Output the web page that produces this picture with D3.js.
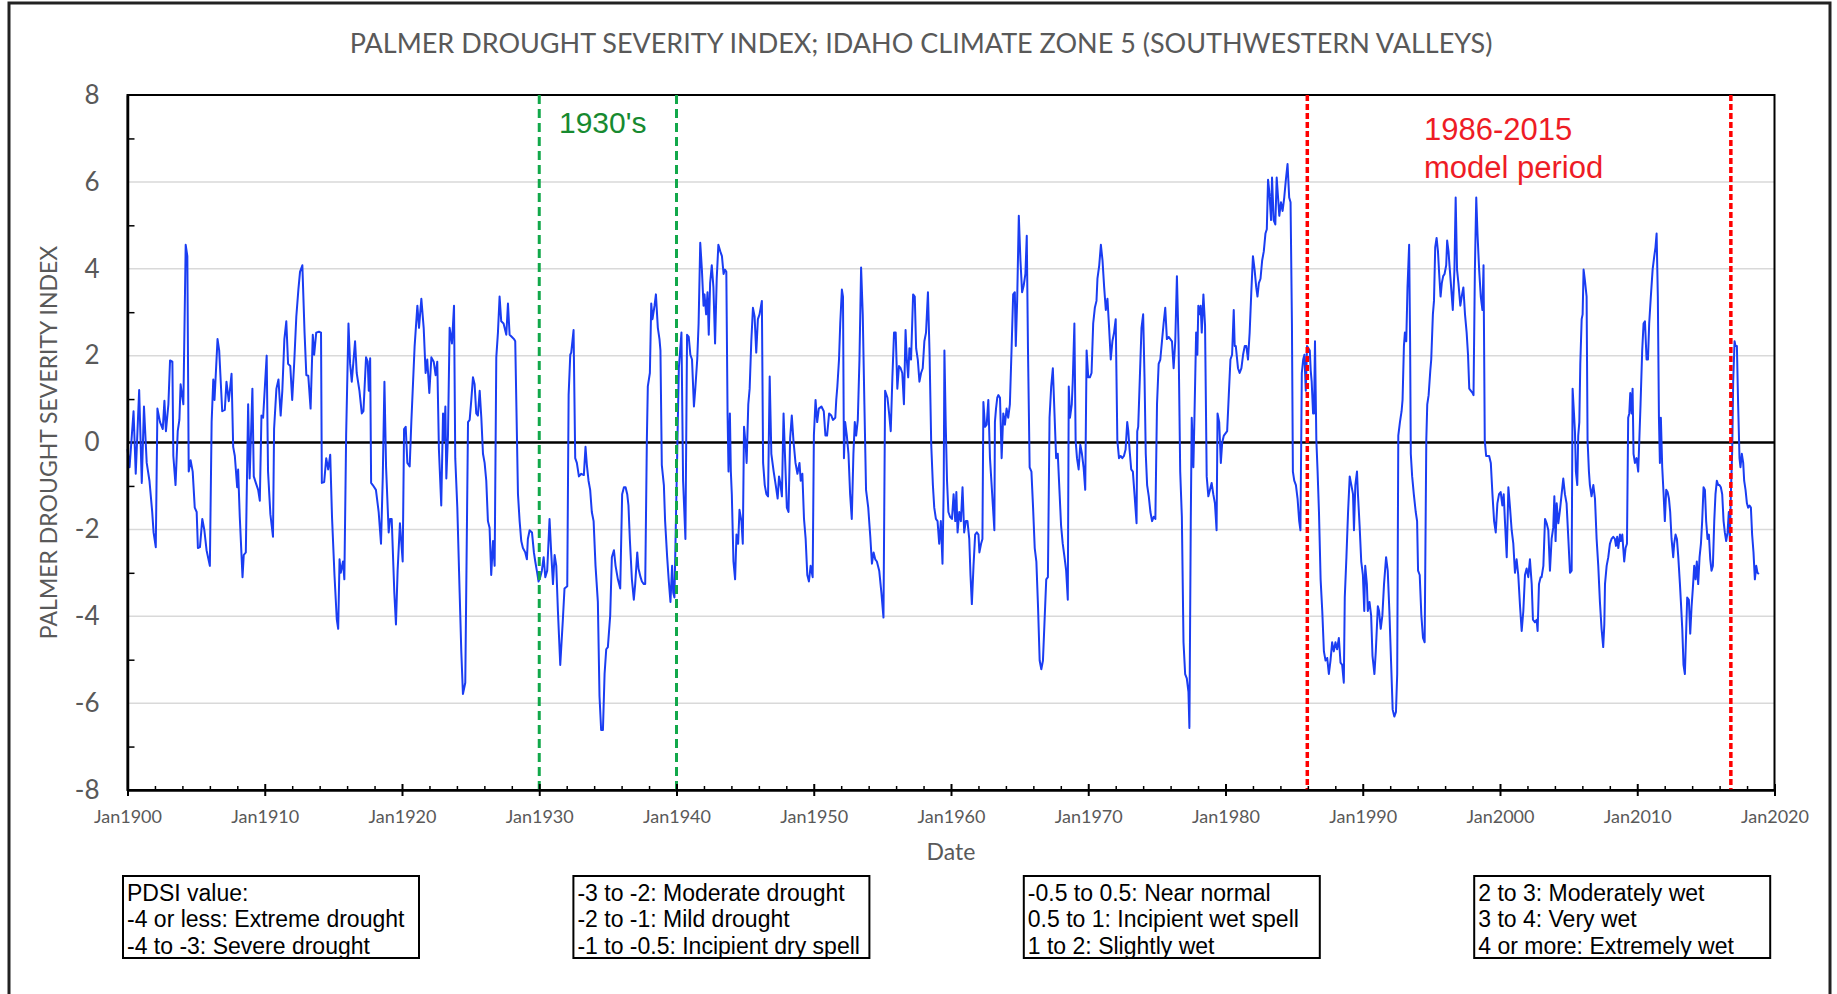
<!DOCTYPE html>
<html>
<head>
<meta charset="utf-8">
<script src="https://cdn.jsdelivr.net/npm/d3@7"></script>
<style>
    body { margin: 0; background: #fff; }
    svg { display: block; }
</style>
</head>
<body>
<svg id="chart" width="1837" height="994"></svg>
<script>
// ---- chart values ----
const titleText = "PALMER DROUGHT SEVERITY INDEX; IDAHO CLIMATE ZONE 5 (SOUTHWESTERN VALLEYS)";
const yAxisTitle = "PALMER DROUGHT SEVERITY INDEX";
const xAxisTitle = "Date";
const yMajorTicks = [-8, -6, -4, -2, 0, 2, 4, 6, 8];
const yMinorTicks = [-7, -5, -3, -1, 1, 3, 5, 7];
const xMajorTicks = [1900, 1910, 1920, 1930, 1940, 1950, 1960, 1970, 1980, 1990, 2000, 2010, 2020];
const xMinorTicks = d3.range(1902, 2020, 2).filter(v => v % 10 !== 0);
const thirtiesLines = [1930, 1940];
const thirtiesLabel = ["1930's"];
const modelLines = [1985.96, 2016.82];
const modelLabel = ["1986-2015", "model period"];
const legendGroups = [
    ["PDSI value:", "-4 or less: Extreme drought", "-4 to -3: Severe drought"],
    ["-3 to -2: Moderate drought", "-2 to -1: Mild drought", "-1 to -0.5: Incipient dry spell"],
    ["-0.5 to 0.5: Near normal", "0.5 to 1: Incipient wet spell", "1 to 2: Slightly wet"],
    ["2 to 3: Moderately wet", "3 to 4: Very wet", "4 or more: Extremely wet"]
];

// monthly PDSI, [decimal year, value]
const pdsi1900s = [[1900.0,-0.15],[1900.15,-0.57],[1900.44,0.72],[1900.6,-0.72],[1900.85,1.21],[1901.04,-0.93],[1901.2,0.83],[1901.4,-0.47],[1901.6,-0.88],[1901.7,-1.24],[1901.8,-1.6],[1901.9,-2.07],[1902.06,-2.41],[1902.18,0.78],[1902.37,0.47],[1902.57,0.31],[1902.69,0.96],[1902.8,0.26],[1902.98,0.88],[1903.1,1.89],[1903.27,1.86],[1903.34,-0.31],[1903.5,-0.98],[1903.66,0.26],[1903.78,0.52],[1903.87,1.34],[1904.07,0.88],[1904.24,4.55],[1904.36,4.29],[1904.46,-0.67],[1904.6,-0.41],[1904.75,-0.67],[1904.9,-1.5],[1905.04,-1.6],[1905.13,-2.43],[1905.28,-2.41],[1905.45,-1.76],[1905.6,-2.02],[1905.76,-2.48],[1906.0,-2.84],[1906.13,0.47],[1906.25,1.45],[1906.34,0.98],[1906.56,2.38],[1906.68,2.12],[1906.9,0.72],[1907.09,0.75],[1907.21,1.4],[1907.38,0.95],[1907.58,1.58],[1907.7,-0.1],[1907.82,-0.31],[1907.99,-1.03],[1908.06,-0.62],[1908.18,-1.71],[1908.38,-3.1],[1908.47,-2.59],[1908.62,-2.53],[1908.79,0.88],[1908.9,-0.83],[1909.1,1.24],[1909.2,-0.78],[1909.35,-0.93],[1909.52,-1.09],[1909.64,-1.34],[1909.76,0.62],[1909.88,0.57]];
const pdsi1910s = [[1910.02,1.34],[1910.14,2.0],[1910.24,-0.67],[1910.41,-1.65],[1910.6,-2.17],[1910.68,0.31],[1910.85,1.24],[1911.0,1.45],[1911.16,0.62],[1911.28,1.19],[1911.43,2.38],[1911.57,2.79],[1911.7,1.81],[1911.86,1.76],[1912.0,0.98],[1912.15,1.86],[1912.3,2.9],[1912.45,3.52],[1912.57,3.93],[1912.74,4.08],[1912.9,2.53],[1913.03,1.55],[1913.17,1.54],[1913.34,0.78],[1913.5,2.48],[1913.6,2.02],[1913.75,2.53],[1913.95,2.55],[1914.1,2.53],[1914.16,-0.93],[1914.33,-0.91],[1914.48,-0.36],[1914.62,-0.62],[1914.77,-0.28],[1914.9,-1.71],[1915.08,-3.05],[1915.25,-4.08],[1915.35,-4.29],[1915.45,-2.69],[1915.54,-3.0],[1915.7,-2.74],[1915.8,-3.15],[1915.93,0.16],[1916.1,2.74],[1916.22,1.81],[1916.34,1.4],[1916.46,1.86],[1916.58,2.33],[1916.7,1.6],[1916.9,1.19],[1917.07,0.67],[1917.19,0.72],[1917.38,1.96],[1917.5,1.86],[1917.58,1.19],[1917.68,1.94],[1917.75,-0.93],[1917.87,-0.98],[1918.1,-1.09],[1918.3,-1.6],[1918.47,-2.33],[1918.6,-0.78],[1918.72,1.4],[1918.84,-0.57],[1919.03,-2.07],[1919.13,-1.76],[1919.25,-1.76],[1919.44,-3.46],[1919.56,-4.19],[1919.68,-2.95],[1919.85,-1.86]];
const pdsi1920s = [[1920.05,-2.74],[1920.15,0.31],[1920.27,0.36],[1920.39,-0.47],[1920.56,-0.55],[1920.68,0.47],[1920.92,2.22],[1921.12,3.15],[1921.24,2.64],[1921.41,3.31],[1921.58,2.64],[1921.72,1.6],[1921.84,1.91],[1921.99,1.14],[1922.14,1.96],[1922.31,1.86],[1922.45,1.55],[1922.57,1.86],[1922.69,-0.16],[1922.86,-1.45],[1922.99,0.67],[1923.06,0.05],[1923.16,0.83],[1923.23,-0.83],[1923.35,0.16],[1923.47,2.64],[1923.64,2.28],[1923.79,3.15],[1923.88,-0.36],[1924.03,-1.5],[1924.2,-3.46],[1924.32,-4.81],[1924.44,-5.79],[1924.61,-5.53],[1924.81,0.47],[1924.93,0.52],[1925.05,0.98],[1925.17,1.5],[1925.29,1.34],[1925.41,0.67],[1925.53,0.62],[1925.66,1.19],[1925.78,0.57],[1925.9,-0.26],[1926.02,-0.47],[1926.14,-0.88],[1926.26,-1.81],[1926.38,-1.96],[1926.5,-3.05],[1926.63,-2.27],[1926.75,-2.84],[1926.87,1.96],[1926.99,2.53],[1927.11,3.36],[1927.23,2.79],[1927.4,2.74],[1927.6,2.48],[1927.72,3.2],[1927.84,2.48],[1928.01,2.43],[1928.16,2.38],[1928.25,2.33],[1928.45,-1.19],[1928.57,-1.81],[1928.69,-2.27],[1928.81,-2.43],[1928.98,-2.53],[1929.1,-2.69],[1929.17,-2.22],[1929.3,-2.02],[1929.47,-2.07],[1929.61,-2.53],[1929.71,-2.74],[1929.85,-3.0],[1929.95,-3.2]];
const pdsi1930s = [[1930.07,-3.1],[1930.19,-2.95],[1930.32,-2.64],[1930.44,-3.1],[1930.58,-2.95],[1930.75,-1.76],[1930.87,-2.53],[1931.0,-3.26],[1931.12,-2.59],[1931.24,-2.84],[1931.36,-3.88],[1931.53,-5.12],[1931.72,-4.08],[1931.84,-3.36],[1932.04,-3.31],[1932.14,1.09],[1932.26,2.02],[1932.33,2.07],[1932.5,2.59],[1932.62,-0.36],[1932.74,-0.47],[1932.89,-0.78],[1933.06,-0.72],[1933.25,-0.75],[1933.37,-0.1],[1933.47,-0.52],[1933.59,-0.88],[1933.71,-1.09],[1933.83,-1.6],[1933.96,-1.81],[1934.1,-2.84],[1934.27,-3.67],[1934.39,-5.84],[1934.51,-6.62],[1934.64,-6.62],[1934.76,-5.33],[1934.88,-4.76],[1935.0,-4.71],[1935.17,-3.98],[1935.29,-2.64],[1935.44,-2.48],[1935.56,-2.84],[1935.73,-3.15],[1935.9,-3.36],[1936.04,-1.19],[1936.17,-1.03],[1936.29,-1.03],[1936.41,-1.19],[1936.5,-1.45],[1936.6,-2.22],[1936.75,-3.15],[1936.89,-3.62],[1936.99,-3.26],[1937.14,-2.53],[1937.23,-2.9],[1937.38,-3.1],[1937.48,-3.2],[1937.62,-3.26],[1937.72,-3.26],[1937.84,0.05],[1937.91,1.29],[1938.06,1.6],[1938.16,3.2],[1938.25,2.84],[1938.4,3.15],[1938.5,3.41],[1938.64,2.64],[1938.76,2.38],[1938.83,2.12],[1938.93,-0.52],[1939.08,-0.98],[1939.17,-1.81],[1939.32,-2.64],[1939.44,-3.2],[1939.56,-3.67],[1939.68,-2.84],[1939.76,-3.46],[1939.85,-3.57]];
const pdsi1940s = [[1940.17,1.71],[1940.36,2.53],[1940.48,-0.88],[1940.65,-2.22],[1940.77,2.48],[1940.89,2.43],[1941.01,2.02],[1941.13,1.91],[1941.27,0.83],[1941.37,1.24],[1941.51,1.91],[1941.61,2.74],[1941.73,4.6],[1941.85,3.98],[1941.97,3.15],[1942.04,3.41],[1942.16,2.95],[1942.26,3.46],[1942.35,2.48],[1942.45,3.67],[1942.57,4.08],[1942.69,3.57],[1942.81,2.28],[1942.93,3.77],[1943.05,4.55],[1943.19,4.4],[1943.31,4.29],[1943.43,3.88],[1943.53,3.98],[1943.63,3.93],[1943.72,0.67],[1943.79,-0.67],[1943.89,0.67],[1943.96,-0.67],[1944.03,-1.19],[1944.15,-2.74],[1944.27,-3.15],[1944.37,-2.12],[1944.49,-2.33],[1944.59,-1.55],[1944.73,-1.81],[1944.83,-2.33],[1944.92,0.36],[1945.04,-0.05],[1945.11,-0.47],[1945.23,0.88],[1945.33,1.24],[1945.45,2.33],[1945.57,3.1],[1945.69,2.9],[1945.81,2.07],[1945.93,2.84],[1946.05,2.95],[1946.22,3.26],[1946.31,-0.47],[1946.43,-0.98],[1946.55,-1.19],[1946.67,-1.24],[1946.79,1.52],[1946.91,-0.26],[1947.08,-0.67],[1947.23,-0.98],[1947.37,-1.29],[1947.47,-0.78],[1947.56,-0.93],[1947.68,-1.24],[1947.8,0.67],[1947.9,-0.26],[1948.04,-1.5],[1948.16,-1.6],[1948.28,0.1],[1948.4,0.62],[1948.52,0.05],[1948.67,-0.47],[1948.81,-0.72],[1948.96,-0.47],[1949.05,-0.88],[1949.17,-0.72],[1949.29,-1.76],[1949.41,-2.22],[1949.53,-3.05],[1949.65,-3.2],[1949.77,-2.84],[1949.92,-3.1]];
const pdsi1950s = [[1950.01,0.16],[1950.13,0.98],[1950.25,0.47],[1950.37,0.78],[1950.56,0.83],[1950.73,0.72],[1950.85,0.16],[1950.97,0.16],[1951.12,0.67],[1951.28,0.62],[1951.4,0.52],[1951.57,0.57],[1951.64,0.98],[1951.72,1.29],[1951.84,1.91],[1951.93,2.74],[1952.05,3.52],[1952.13,3.36],[1952.2,-0.36],[1952.29,0.47],[1952.41,0.16],[1952.53,-0.26],[1952.65,-1.19],[1952.77,-1.76],[1952.89,-0.26],[1952.99,0.47],[1953.09,0.16],[1953.21,0.52],[1953.33,1.91],[1953.45,4.03],[1953.57,2.95],[1953.69,0.88],[1953.81,-1.09],[1953.97,-1.5],[1954.12,-2.17],[1954.24,-2.79],[1954.36,-2.53],[1954.48,-2.69],[1954.6,-2.74],[1954.77,-2.95],[1954.93,-3.46],[1955.08,-4.03],[1955.2,1.19],[1955.37,1.03],[1955.49,0.67],[1955.61,0.26],[1955.73,1.5],[1955.85,2.53],[1955.97,2.53],[1956.09,1.24],[1956.21,1.76],[1956.33,1.71],[1956.45,1.6],[1956.57,0.88],[1956.69,2.59],[1956.78,1.91],[1956.88,1.5],[1956.97,2.17],[1957.09,1.91],[1957.24,3.41],[1957.36,3.36],[1957.46,2.17],[1957.58,1.91],[1957.7,1.4],[1957.82,1.6],[1957.94,1.71],[1958.06,2.33],[1958.18,2.53],[1958.32,3.46],[1958.44,2.02],[1958.56,-0.05],[1958.68,-0.98],[1958.78,-1.5],[1958.9,-1.76],[1959.02,-1.81],[1959.14,-2.33],[1959.26,-1.81],[1959.38,-2.79],[1959.47,-0.98],[1959.52,2.12],[1959.62,0.36],[1959.71,-0.88],[1959.81,-1.6],[1959.93,-1.71]];
const pdsi1960s = [[1960.07,-1.76],[1960.19,-1.19],[1960.31,-1.81],[1960.39,-1.14],[1960.48,-2.07],[1960.6,-1.6],[1960.72,-1.81],[1960.84,-1.03],[1960.96,-2.07],[1961.08,-1.81],[1961.2,-1.81],[1961.33,-2.22],[1961.42,-3.05],[1961.52,-3.72],[1961.64,-2.84],[1961.76,-2.12],[1961.88,-2.07],[1962.0,-2.12],[1962.07,-2.53],[1962.19,-2.33],[1962.29,-2.22],[1962.36,0.93],[1962.48,0.36],[1962.6,0.41],[1962.72,0.98],[1962.84,-0.36],[1962.96,-0.98],[1963.16,-2.02],[1963.2,0.47],[1963.28,0.78],[1963.37,1.03],[1963.45,1.09],[1963.57,1.03],[1963.69,-0.36],[1963.81,0.67],[1963.93,0.41],[1964.05,0.78],[1964.17,0.57],[1964.29,0.88],[1964.41,2.12],[1964.53,3.41],[1964.65,3.46],[1964.72,2.22],[1964.82,3.26],[1964.94,5.22],[1965.06,4.19],[1965.18,3.46],[1965.3,3.62],[1965.42,3.88],[1965.52,4.76],[1965.61,2.12],[1965.73,-0.57],[1965.86,-0.67],[1965.98,-1.5],[1966.1,-2.43],[1966.22,-2.74],[1966.34,-3.77],[1966.46,-5.02],[1966.58,-5.22],[1966.7,-5.02],[1966.82,-4.08],[1966.94,-3.15],[1967.06,-3.1],[1967.18,0.57],[1967.3,1.29],[1967.42,1.71],[1967.54,0.67],[1967.66,-0.36],[1967.78,-0.26],[1967.9,-1.09],[1968.02,-1.91],[1968.14,-2.33],[1968.27,-2.64],[1968.39,-2.95],[1968.51,-3.62],[1968.58,1.29],[1968.67,0.57],[1968.8,0.88],[1968.87,1.4],[1968.99,2.74],[1969.08,0.05],[1969.18,-0.36],[1969.3,-0.62],[1969.42,-0.05],[1969.54,-0.26],[1969.66,-0.57],[1969.78,-1.09],[1969.88,2.12]];
const pdsi1970s = [[1970.0,1.5],[1970.12,1.5],[1970.24,1.6],[1970.36,2.74],[1970.48,3.1],[1970.6,3.26],[1970.67,3.77],[1970.8,4.08],[1970.92,4.55],[1971.04,4.19],[1971.16,3.57],[1971.28,3.05],[1971.4,3.31],[1971.52,2.64],[1971.64,1.91],[1971.76,2.33],[1971.88,2.53],[1972.0,2.84],[1972.12,0.05],[1972.24,-0.36],[1972.36,-0.31],[1972.48,-0.36],[1972.6,-0.31],[1972.72,-0.16],[1972.84,0.47],[1972.92,0.26],[1973.01,-0.16],[1973.13,-0.62],[1973.25,-0.67],[1973.37,-1.19],[1973.52,-1.86],[1973.57,0.26],[1973.64,0.36],[1973.76,1.5],[1973.88,2.64],[1974.0,2.95],[1974.1,1.5],[1974.19,-0.26],[1974.29,-0.98],[1974.41,-1.24],[1974.53,-1.6],[1974.65,-1.81],[1974.77,-1.71],[1974.89,-1.76],[1975.01,0.88],[1975.13,1.81],[1975.25,1.91],[1975.37,2.33],[1975.49,2.74],[1975.61,3.1],[1975.73,2.38],[1975.86,2.43],[1975.98,2.38],[1976.1,2.33],[1976.22,1.71],[1976.34,2.33],[1976.46,3.83],[1976.58,2.33],[1976.7,-0.67],[1976.82,-1.71],[1976.94,-4.6],[1977.06,-5.33],[1977.18,-5.43],[1977.3,-5.74],[1977.37,-6.57],[1977.47,-1.81],[1977.54,0.57],[1977.66,-0.57],[1977.73,0.47],[1977.86,2.53],[1977.95,2.02],[1978.02,3.15],[1978.1,2.95],[1978.19,3.15],[1978.27,2.53],[1978.39,3.41],[1978.51,2.69],[1978.63,-0.78],[1978.75,-1.24],[1978.87,-1.09],[1978.99,-0.93],[1979.11,-1.19],[1979.23,-1.4],[1979.35,-2.02],[1979.42,0.67],[1979.54,0.47],[1979.66,-0.47],[1979.76,0.0],[1979.88,0.16]];
const pdsi1980s = [[1980.12,0.26],[1980.24,1.09],[1980.36,1.91],[1980.48,2.02],[1980.6,3.05],[1980.67,2.22],[1980.75,2.22],[1980.91,1.71],[1981.03,1.6],[1981.16,1.71],[1981.28,2.02],[1981.4,2.22],[1981.52,2.22],[1981.64,1.91],[1981.76,2.53],[1981.88,3.46],[1982.0,4.29],[1982.12,3.98],[1982.24,3.57],[1982.33,3.36],[1982.43,3.67],[1982.55,3.77],[1982.67,4.19],[1982.79,4.4],[1982.91,4.81],[1983.01,4.91],[1983.1,6.05],[1983.2,5.74],[1983.32,5.12],[1983.39,6.1],[1983.51,5.12],[1983.63,5.02],[1983.73,6.1],[1983.83,5.64],[1983.92,5.22],[1984.04,5.53],[1984.16,5.33],[1984.28,5.64],[1984.4,6.05],[1984.52,6.41],[1984.64,5.64],[1984.74,5.53],[1984.84,2.74],[1984.91,-0.67],[1985.01,-0.88],[1985.13,-0.98],[1985.25,-1.29],[1985.37,-1.81],[1985.46,-2.02],[1985.56,1.6],[1985.66,1.91],[1985.75,2.02],[1985.85,1.19],[1985.94,2.22],[1986.04,2.17],[1986.14,2.12],[1986.21,1.65],[1986.28,1.4],[1986.38,0.67],[1986.45,0.67],[1986.52,2.33],[1986.62,0.05],[1986.71,-0.67],[1986.81,-1.6],[1986.93,-3.15],[1987.05,-3.88],[1987.17,-4.81],[1987.29,-5.02],[1987.41,-4.96],[1987.53,-5.33],[1987.65,-5.02],[1987.77,-4.6],[1987.89,-4.81],[1988.01,-4.6],[1988.13,-4.76],[1988.26,-4.5],[1988.38,-5.07],[1988.5,-5.12],[1988.62,-5.53],[1988.69,-3.57],[1988.81,-2.64],[1988.93,-1.6],[1989.05,-0.78],[1989.17,-0.98],[1989.29,-1.19],[1989.36,-2.02],[1989.46,-0.98],[1989.58,-0.67],[1989.65,-1.19],[1989.77,-1.91],[1989.89,-2.74]];
const pdsi1990s = [[1990.01,-3.05],[1990.11,-3.88],[1990.18,-2.84],[1990.3,-3.26],[1990.37,-3.88],[1990.49,-3.67],[1990.61,-3.98],[1990.71,-4.91],[1990.85,-5.33],[1990.95,-4.81],[1991.1,-3.77],[1991.19,-3.88],[1991.31,-4.29],[1991.43,-3.98],[1991.55,-3.26],[1991.7,-2.64],[1991.82,-2.95],[1991.94,-3.88],[1992.06,-5.02],[1992.18,-6.15],[1992.3,-6.31],[1992.42,-6.2],[1992.51,-5.33],[1992.59,0.16],[1992.71,0.47],[1992.83,0.72],[1992.9,0.98],[1993.0,2.22],[1993.07,2.53],[1993.17,2.33],[1993.26,3.57],[1993.38,4.55],[1993.45,2.33],[1993.5,-0.26],[1993.6,-0.78],[1993.72,-1.19],[1993.86,-1.6],[1993.96,-1.81],[1994.03,-2.95],[1994.15,-3.05],[1994.27,-3.98],[1994.39,-4.5],[1994.51,-4.6],[1994.63,0.05],[1994.7,0.88],[1994.8,1.09],[1994.92,1.65],[1994.99,1.91],[1995.11,2.95],[1995.19,3.26],[1995.28,4.5],[1995.38,4.71],[1995.48,4.4],[1995.57,3.88],[1995.67,3.36],[1995.76,3.67],[1995.86,3.83],[1995.96,3.88],[1996.08,4.08],[1996.15,4.65],[1996.25,4.4],[1996.32,4.08],[1996.44,3.57],[1996.56,3.05],[1996.68,3.98],[1996.77,5.64],[1996.87,3.98],[1996.97,3.67],[1997.11,3.15],[1997.21,3.36],[1997.33,3.57],[1997.45,2.95],[1997.57,2.53],[1997.67,2.02],[1997.76,1.24],[1997.88,1.19],[1998.0,1.14],[1998.07,1.09],[1998.17,3.98],[1998.27,5.64],[1998.36,4.81],[1998.48,3.98],[1998.6,3.36],[1998.72,3.05],[1998.8,4.08],[1998.89,0.05],[1998.99,-0.31],[1999.09,-0.31],[1999.21,-0.31],[1999.33,-0.47],[1999.45,-1.19],[1999.57,-1.81],[1999.69,-2.07],[1999.81,-1.4],[1999.93,-1.19]];
const pdsi2000s = [[2000.05,-1.14],[2000.17,-1.45],[2000.27,-1.19],[2000.36,-1.81],[2000.49,-2.64],[2000.61,-1.03],[2000.73,-1.5],[2000.85,-2.02],[2000.97,-2.33],[2001.09,-3.0],[2001.21,-2.69],[2001.33,-3.05],[2001.46,-3.77],[2001.58,-4.34],[2001.7,-3.88],[2001.82,-3.05],[2001.94,-2.9],[2002.06,-3.1],[2002.18,-2.69],[2002.31,-3.26],[2002.4,-4.08],[2002.55,-4.14],[2002.67,-4.08],[2002.74,-4.34],[2002.84,-3.26],[2002.96,-3.1],[2003.03,-3.1],[2003.16,-2.84],[2003.28,-1.76],[2003.4,-1.86],[2003.52,-2.02],[2003.64,-2.95],[2003.76,-2.22],[2003.88,-1.96],[2003.96,-1.24],[2004.05,-2.27],[2004.13,-1.4],[2004.25,-1.86],[2004.37,-1.55],[2004.49,-1.19],[2004.61,-0.83],[2004.73,-1.19],[2004.85,-1.4],[2004.98,-2.22],[2005.1,-3.0],[2005.22,-2.95],[2005.29,1.24],[2005.39,0.67],[2005.46,0.26],[2005.53,-0.67],[2005.63,-0.98],[2005.7,0.16],[2005.78,0.47],[2005.85,1.81],[2005.95,2.84],[2006.02,2.95],[2006.09,3.98],[2006.19,3.72],[2006.31,3.36],[2006.38,0.05],[2006.48,-0.67],[2006.55,-0.98],[2006.67,-1.24],[2006.8,-0.98],[2006.92,-1.29],[2007.04,-2.22],[2007.16,-2.84],[2007.28,-3.67],[2007.4,-4.29],[2007.52,-4.71],[2007.6,-4.19],[2007.65,-3.26],[2007.77,-2.84],[2007.89,-2.64],[2008.01,-2.33],[2008.13,-2.22],[2008.25,-2.17],[2008.37,-2.22],[2008.45,-2.38],[2008.54,-2.17],[2008.62,-2.43],[2008.74,-2.12],[2008.81,-2.27],[2008.91,-2.12],[2008.98,-2.43],[2009.05,-2.74],[2009.15,-2.43],[2009.25,-2.33],[2009.34,0.57],[2009.42,0.67],[2009.49,1.14],[2009.59,0.67],[2009.66,1.24],[2009.73,-0.26],[2009.83,-0.47],[2009.95,-0.36]];
const pdsi2010s = [[2010.07,-0.67],[2010.15,0.05],[2010.24,0.88],[2010.36,2.12],[2010.46,2.74],[2010.56,2.79],[2010.68,1.91],[2010.78,1.91],[2010.87,2.74],[2010.99,3.36],[2011.12,3.98],[2011.24,4.29],[2011.33,4.5],[2011.41,4.81],[2011.5,3.36],[2011.58,0.57],[2011.65,-0.47],[2011.72,0.57],[2011.82,-0.57],[2011.92,-1.19],[2012.01,-1.81],[2012.11,-1.09],[2012.21,-1.14],[2012.31,-1.29],[2012.4,-1.6],[2012.5,-2.22],[2012.62,-2.64],[2012.69,-2.33],[2012.79,-2.12],[2012.89,-2.22],[2012.99,-2.64],[2013.11,-3.26],[2013.18,-3.67],[2013.28,-4.29],[2013.37,-5.12],[2013.47,-5.33],[2013.57,-4.29],[2013.64,-3.57],[2013.76,-3.62],[2013.86,-4.4],[2013.96,-3.77],[2014.05,-3.36],[2014.15,-2.84],[2014.25,-3.15],[2014.34,-2.74],[2014.44,-3.26],[2014.54,-2.64],[2014.64,-2.33],[2014.73,-1.81],[2014.83,-1.03],[2014.93,-1.09],[2015.02,-1.81],[2015.12,-2.22],[2015.22,-2.12],[2015.32,-2.69],[2015.41,-2.95],[2015.51,-2.84],[2015.61,-1.81],[2015.7,-1.19],[2015.8,-0.88],[2015.9,-0.98],[2015.99,-0.98],[2016.09,-1.03],[2016.19,-1.19],[2016.29,-1.81],[2016.38,-2.07],[2016.48,-2.27],[2016.58,-2.07],[2016.67,-1.6],[2016.75,-2.27],[2016.82,-1.19],[2016.92,-0.16],[2016.99,1.4],[2017.09,2.33],[2017.16,2.22],[2017.26,2.22],[2017.35,0.88],[2017.45,-0.36],[2017.52,-0.57],[2017.62,-0.26],[2017.72,-0.47],[2017.79,-0.88],[2017.89,-1.09],[2017.99,-1.4],[2018.08,-1.5],[2018.18,-1.45],[2018.28,-1.5],[2018.37,-2.12],[2018.47,-2.53],[2018.57,-3.15],[2018.67,-2.84],[2018.76,-3.0],[2018.86,-3.03]];

const pdsiSeries = [].concat(pdsi1900s, pdsi1910s, pdsi1920s, pdsi1930s, pdsi1940s, pdsi1950s,
    pdsi1960s, pdsi1970s, pdsi1980s, pdsi1990s, pdsi2000s, pdsi2010s);

// ---- layout ----
const svg = d3.select("#chart");
const plot = {left: 127.5, right: 1774.5, top: 95, bottom: 790};
const calibri = "Lato, 'Open Sans', sans-serif";
const arial = "'Liberation Sans', Arial, sans-serif";
const arialNarrow = "'Liberation Sans Narrow', 'Arial Narrow', 'Liberation Sans', sans-serif";
const grayText = "#595959";

const x = d3.scaleLinear().domain([1900, 2020]).range([plot.left, plot.right]);
const y = d3.scaleLinear().domain([-8, 8]).range([plot.bottom, plot.top]);

// outer frame of the figure
svg.append("rect")
    .attr("x", 9).attr("y", 3).attr("width", 1821).attr("height", 1010)
    .attr("fill", "none").attr("stroke", "#222").attr("stroke-width", 3);

// title
svg.append("text")
    .attr("x", 921).attr("y", 53)
    .attr("text-anchor", "middle")
    .attr("font-family", calibri).attr("font-size", 27)
    .attr("fill", grayText)
    .text(titleText);

// horizontal gridlines
svg.append("g").selectAll("line")
    .data(yMajorTicks.filter(v => v !== 0 && Math.abs(v) !== 8))
    .join("line")
    .attr("x1", plot.left).attr("x2", plot.right)
    .attr("y1", d => y(d)).attr("y2", d => y(d))
    .attr("stroke", "#d9d9d9").attr("stroke-width", 1.5);

// zero line
svg.append("line")
    .attr("x1", plot.left).attr("x2", plot.right)
    .attr("y1", y(0)).attr("y2", y(0))
    .attr("stroke", "#000").attr("stroke-width", 2.5);

// the PDSI line
const line = d3.line().x(d => x(d[0])).y(d => y(d[1]));
svg.append("path")
    .datum(pdsiSeries)
    .attr("d", line)
    .attr("fill", "none")
    .attr("stroke", "#1a3df2")
    .attr("stroke-width", 2)
    .attr("stroke-linejoin", "round");

// plot frame (top and right edges)
svg.append("rect")
    .attr("x", plot.left).attr("y", plot.top)
    .attr("width", plot.right - plot.left).attr("height", plot.bottom - plot.top)
    .attr("fill", "none").attr("stroke", "#000").attr("stroke-width", 2);

// 1930's markers
svg.append("g").selectAll("line")
    .data(thirtiesLines).join("line")
    .attr("x1", d => x(d)).attr("x2", d => x(d))
    .attr("y1", plot.top).attr("y2", plot.bottom)
    .attr("stroke", "#12a84a").attr("stroke-width", 3)
    .attr("stroke-dasharray", "9,5");

svg.append("text")
    .attr("x", 559).attr("y", 133)
    .attr("font-family", arial).attr("font-size", 30)
    .attr("fill", "#178a30")
    .text(thirtiesLabel[0]);

// model period markers
svg.append("g").selectAll("line")
    .data(modelLines).join("line")
    .attr("x1", d => x(d)).attr("x2", d => x(d))
    .attr("y1", plot.top).attr("y2", plot.bottom)
    .attr("stroke", "#ff0000").attr("stroke-width", 3.5)
    .attr("stroke-dasharray", "6,3");

svg.append("g").selectAll("text")
    .data(modelLabel).join("text")
    .attr("x", 1424)
    .attr("y", (d, i) => 140 + i * 37.5)
    .attr("font-family", arial).attr("font-size", 31)
    .attr("fill", "#ee1c25")
    .text(d => d);

// x axis
const gx = svg.append("g")
    .attr("transform", `translate(0,${plot.bottom})`)
    .call(d3.axisBottom(x).tickValues(xMajorTicks).tickFormat(d => "Jan" + d)
        .tickSizeInner(6).tickSizeOuter(0).tickPadding(14));
gx.select(".domain").attr("stroke", "#000").attr("stroke-width", 2.5);
gx.selectAll(".tick line").attr("y1", -6).attr("stroke", "#000").attr("stroke-width", 2);
gx.selectAll(".tick text")
    .attr("font-family", calibri).attr("font-size", 18).attr("fill", grayText);

const gxMinor = svg.append("g")
    .attr("transform", `translate(0,${plot.bottom})`)
    .call(d3.axisBottom(x).tickValues(xMinorTicks).tickFormat("").tickSizeInner(-4).tickSizeOuter(0));
gxMinor.select(".domain").remove();
gxMinor.selectAll(".tick line").attr("stroke", "#000").attr("stroke-width", 1.5);

// y axis
const gy = svg.append("g")
    .attr("transform", `translate(${plot.left},0)`)
    .call(d3.axisLeft(y).tickValues(yMajorTicks).tickFormat(d => String(d))
        .tickSize(0).tickPadding(28));
gy.select(".domain").attr("stroke", "#000").attr("stroke-width", 2.5);
gy.selectAll(".tick text")
    .attr("font-family", calibri).attr("font-size", 26).attr("fill", grayText);

const gyMinor = svg.append("g")
    .attr("transform", `translate(${plot.left},0)`)
    .call(d3.axisLeft(y).tickValues(yMinorTicks).tickFormat("").tickSizeInner(-7).tickSizeOuter(0));
gyMinor.select(".domain").remove();
gyMinor.selectAll(".tick line").attr("stroke", "#000").attr("stroke-width", 1.5);

// axis titles
svg.append("text")
    .attr("x", (plot.left + plot.right) / 2).attr("y", 860)
    .attr("text-anchor", "middle")
    .attr("font-family", calibri).attr("font-size", 23)
    .attr("fill", grayText)
    .text(xAxisTitle);

svg.append("text")
    .attr("transform", `translate(57,${(plot.top + plot.bottom) / 2}) rotate(-90)`)
    .attr("text-anchor", "middle")
    .attr("font-family", calibri).attr("font-size", 23)
    .attr("fill", grayText)
    .text(yAxisTitle);

// PDSI class boxes
const box = {left: 123, step: 450.4, top: 876, width: 296, height: 82};
const legend = svg.append("g").selectAll("g")
    .data(legendGroups).join("g")
    .attr("transform", (d, i) => `translate(${box.left + i * box.step},${box.top})`);

legend.append("rect")
    .attr("width", box.width).attr("height", box.height)
    .attr("fill", "#fff").attr("stroke", "#000").attr("stroke-width", 2);

legend.selectAll("text")
    .data(d => d).join("text")
    .attr("x", 4)
    .attr("y", (d, i) => 25 + i * 26.3)
    .attr("font-family", arialNarrow).attr("font-size", 23)
    .attr("fill", "#000")
    .text(d => d);
</script>
</body>
</html>
